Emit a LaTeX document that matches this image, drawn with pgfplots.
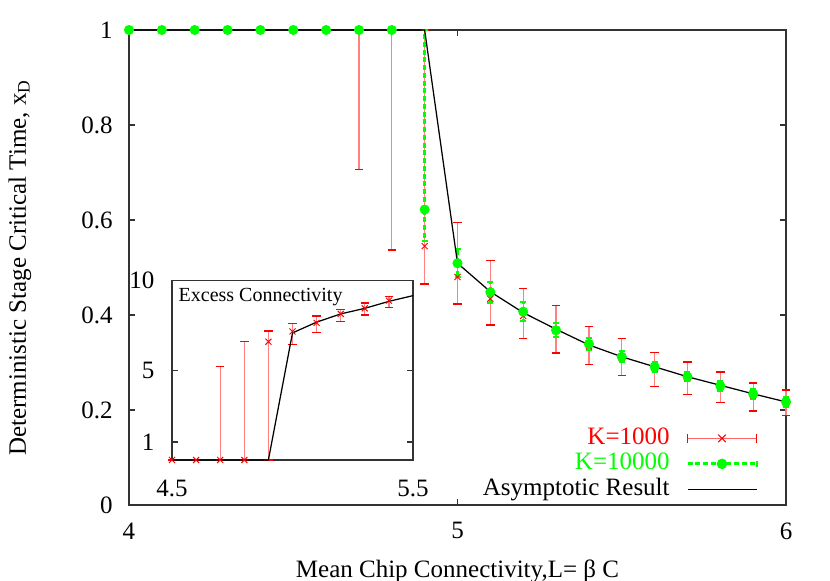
\documentclass[border=0pt]{standalone}
\usepackage{fontspec}
\setmainfont{Liberation Serif}
\usepackage{pgfplots}
\pgfplotsset{compat=1.18}
\definecolor{gpred}{RGB}{255,0,0}
\definecolor{gpgreen}{RGB}{0,255,0}

% K=1000: x, y, error plus, error minus
\pgfplotstableread{
x    y      ep     em
4.0  1      0      0
4.1  1      0      0
4.2  1      0      0
4.3  1      0      0
4.4  1      0      0
4.5  1      0      0
4.6  1      0      0
4.7  1      0      0.293
4.8  1      0      0.463
4.9  0.545  0.455  0.080
5.0  0.480  0.114  0.057
5.1  0.434  0.080  0.055
5.2  0.398  0.057  0.047
5.3  0.366  0.054  0.046
5.4  0.334  0.041  0.039
5.5  0.310  0.040  0.038
5.6  0.288  0.033  0.038
5.7  0.267  0.034  0.035
5.8  0.249  0.031  0.034
5.9  0.231  0.026  0.033
6.0  0.216  0.026  0.027
}\kone
% K=10000
\pgfplotstableread{
x    y      ep     em
4.0  1      0      0
4.1  1      0      0
4.2  1      0      0
4.3  1      0      0
4.4  1      0      0
4.5  1      0      0
4.6  1      0      0
4.7  1      0      0
4.8  1      0      0
4.9  0.622  0.378  0.067
5.0  0.509  0.030  0.030
5.1  0.448  0.022  0.022
5.2  0.407  0.020  0.020
5.3  0.368  0.015  0.015
5.4  0.339  0.013  0.013
5.5  0.312  0.012  0.012
5.6  0.291  0.010  0.010
5.7  0.270  0.010  0.010
5.8  0.251  0.010  0.010
5.9  0.234  0.010  0.010
6.0  0.217  0.010  0.010
}\kten
% asymptotic result
\pgfplotstableread{
x    y
4.0  1
4.9  1
5.0  0.509
5.1  0.449
5.2  0.405
5.3  0.370
5.4  0.337
5.5  0.312
5.6  0.291
5.7  0.270
5.8  0.252
5.9  0.234
6.0  0.217
}\asym
% inset: excess connectivity, K=1000
\pgfplotstableread{
x    y     ep    em
4.5  0     0     0
4.6  0     0     0
4.7  0     5.2   0
4.8  0     6.6   0
4.9  6.6   0.6   6.6
5.0  7.17  0.46  0.73
5.1  7.65  0.39  0.52
5.2  8.15  0.24  0.43
5.3  8.46  0.30  0.37
5.4  8.89  0.24  0.37
}\insetk
\pgfplotstableread{
x    y
4.5  0
4.9  0
5.0  7.09
5.1  7.69
5.2  8.15
5.3  8.46
5.4  8.85
5.5  9.17
}\insetasym

\pgfplotsset{
  gp/.style={
    scale only axis,
    axis line style={black!80,line width=0.6pt},
    tick style={black!80,line width=0.6pt},
    major tick length=2.4pt,
    tick align=inside,
    /pgf/number format/assume math mode=true,
    clip=false,
  },
  redbars/.style={
    only marks, mark=x, mark size=1.7pt, gpred, mark options={line width=0.4pt},
    error bars/y dir=both, error bars/y explicit,
    error bars/error bar style={gpred!50,line width=0.5pt},
    error bars/error mark options={gpred,mark size=1.7pt,rotate=90,line width=0.5pt},
  },
}

\begin{document}
\begin{tikzpicture}
\useasboundingbox (-51.6pt,-30.4pt) rectangle (280.4pt,202pt);
\begin{axis}[
  gp,
  width=262.8pt, height=190pt,
  xmin=4, xmax=6, ymin=0, ymax=1,
  xtick={4,5,6}, ytick={0,0.2,0.4,0.6,0.8,1},
  yticklabels={0,0.2,0.4,0.6,0.8,1},
  xticklabel style={yshift=-3.5pt},
  yticklabel style={xshift=-3pt},
  xlabel={Mean Chip Connectivity,L= β C},
  ylabel={Deterministic Stage Critical Time, x\textsubscript{D}},
  every axis x label/.style={at={(axis description cs:0.5,-0.14)},anchor=center},
  every axis y label/.style={at={(axis description cs:-0.166,0.5)},rotate=90,anchor=center},
  legend plot pos=right,
  legend cell align=right,
  legend style={draw=none,fill=none,at={(rel axis cs:0.958,0.005)},anchor=south east,
    inner sep=0pt,row sep=0pt,
    nodes={inner sep=0.5pt,text height=7pt,text depth=2.2pt}},
]
\addplot[redbars,
  legend image code/.code={
    \path (0pt,0pt);
    \draw[gpred!60,line width=0.5pt] (6.4pt,0pt) -- (34pt,0pt);
    \draw[gpred,line width=0.5pt] (6.4pt,-1.7pt) -- (6.4pt,1.7pt) (34pt,-1.7pt) -- (34pt,1.7pt);
    \draw[gpred,line width=0.4pt] (18.7pt,-1.5pt) -- (21.7pt,1.5pt) (18.7pt,1.5pt) -- (21.7pt,-1.5pt);
  }]
  table[x=x,y=y,y error plus=ep,y error minus=em] {\kone};
\addlegendentry{\textcolor{gpred}{K=1000}}

\addplot[only marks, mark=*, mark size=1.8pt, gpgreen,
  legend image code/.code={
    \path (0pt,0pt);
    \draw[gpgreen,line width=1.1pt,dash pattern=on 2pt off 1.1pt] (6.4pt,0pt) -- (34pt,0pt);
    \draw[gpgreen,line width=0.8pt] (34pt,-1.2pt) -- (34pt,1.2pt);
    \fill[gpgreen] (20.2pt,0pt) circle (1.9pt);
  },
  error bars/y dir=both, error bars/y explicit,
  error bars/error bar style={gpgreen,line width=1.1pt,dash pattern=on 2pt off 1.1pt},
  error bars/error mark options={gpgreen,mark size=1.2pt,rotate=90,line width=0.8pt}]
  table[x=x,y=y,y error plus=ep,y error minus=em] {\kten};
\addlegendentry{\textcolor{gpgreen}{K=10000}}

\addplot[black,line width=0.5pt,mark=none,
  legend image code/.code={\path (0pt,0pt); \draw[black,line width=0.5pt] (6.4pt,0pt) -- (34pt,0pt);}]
  table[x=x,y=y] {\asym};
\addlegendentry{Asymptotic Result}
\end{axis}

\begin{axis}[
  gp,
  at={(17.2pt,18pt)}, anchor=south west,
  width=96.4pt, height=71.7pt,
  xmin=4.5, xmax=5.5, ymin=0, ymax=10,
  xtick={4.5,5.5}, xticklabels={4.5,5.5},
  ytick={1,5,10},
  x tick style={draw=none},
  xticklabel style={yshift=-4.5pt},
  yticklabel style={xshift=-3.5pt},
  axis background/.style={fill=white},
]
\addplot[redbars] table[x=x,y=y,y error plus=ep,y error minus=em] {\insetk};
\addplot[black,line width=0.5pt,mark=none] table[x=x,y=y] {\insetasym};
\node[anchor=north west,font=\footnotesize,inner sep=1.5pt] at (rel axis cs:0.01,0.98) {Excess Connectivity};
\end{axis}
\end{tikzpicture}
\end{document}
